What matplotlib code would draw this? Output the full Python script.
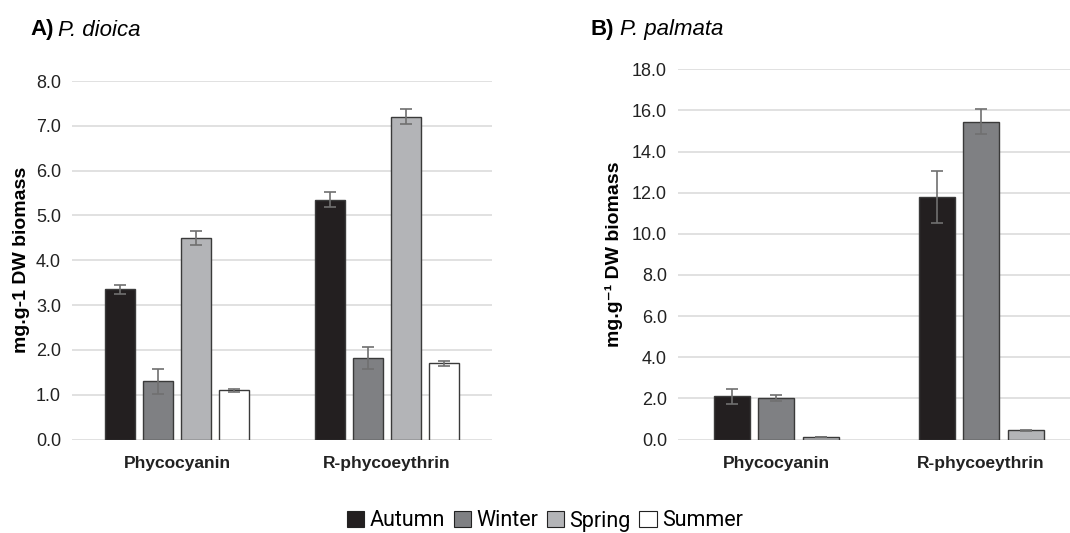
import matplotlib
matplotlib.use("Agg")
from matplotlib import pyplot as plt
from matplotlib.patches import Patch
import numpy as np

plt.rcParams['font.family'] = ['Liberation Sans', 'DejaVu Sans']

pigmentos = ["Phycocyanin", "R-phycoeythrin"]
estaciones = ["Autumn", "Winter", "Spring", "Summer"]
colores = ["#231f20", "#7f8083", "#b3b4b7", "#ffffff"]

# P. dioica (A)
dioica = [[3.35, 5.35], [1.30, 1.82], [4.50, 7.20], [1.10, 1.70]]
dioica_err = [[0.10, 0.17], [0.28, 0.25], [0.15, 0.17], [0.03, 0.05]]

# P. palmata (B) - no summer
palmata = [[2.10, 11.80], [2.00, 15.45], [0.12, 0.45]]
palmata_err = [[0.35, 1.25], [0.15, 0.60], [0.01, 0.03]]

W, H = 1070, 533
fig = plt.figure(figsize=(W / 100, H / 100), dpi=100)


def ejes(x0, x1, y0, y1):
    return fig.add_axes([x0 / W, 1 - y1 / H, (x1 - x0) / W, (y1 - y0) / H])


def panel(ax, datos, errores, ancho, paso, ymax, ystep, ylabel, lpad):
    indice = np.arange(len(pigmentos))
    n = len(datos)
    for i in range(n):
        pos = indice + (i - (n - 1) / 2) * paso
        ax.bar(pos, datos[i], ancho, color=colores[i], edgecolor="#3a3a3a",
               linewidth=1.0, zorder=3)
        ax.errorbar(pos, datos[i], yerr=errores[i], fmt="none", ecolor="#707070",
                    elinewidth=1.2, capsize=4, capthick=1.2, zorder=4)
    ax.set_ylim(0, ymax)
    ax.set_yticks(np.arange(0, ymax + 0.01, ystep))
    ax.set_yticklabels([f"{v:.1f}" for v in np.arange(0, ymax + 0.01, ystep)],
                       fontsize=13, color="#222222")
    ax.set_xticks(indice)
    ax.set_xticklabels(pigmentos, fontsize=12.5, fontweight="bold", color="#222222")
    ax.tick_params(length=0, pad=8)
    ax.tick_params(axis="x", pad=12)
    ax.grid(axis="y", color="#dcdcdc", linewidth=1.2, zorder=0)
    for s in ax.spines.values():
        s.set_visible(False)
    ax.set_ylabel(ylabel, fontsize=14, fontweight="bold", labelpad=lpad)


# panel A
axA = ejes(72, 492, 81, 439.5)
panel(axA, dioica, dioica_err, 30 / 210, 38 / 210, 8.0, 1.0, "mg.g-1 DW biomass", 4)
axA.set_xlim(-0.5, 1.5)

# panel B
axB = ejes(678, 1070, 69.3, 439.5)
panel(axB, palmata, palmata_err, 36 / 205, 44.5 / 205, 18.0, 2.0,
      "mg.g\u207b\u00b9 DW biomass", 6)
axB.set_xlim((678 - 776) / 205, (1070 - 776) / 205)

fig.text(30 / W, 1 - 30 / H, "A)", fontsize=16, fontweight="bold", va="center")
fig.text(58 / W, 1 - 30 / H, "P. dioica", fontsize=16, style="italic", va="center")
fig.text(591 / W, 1 - 30 / H, "B)", fontsize=16, fontweight="bold", va="center")
fig.text(620 / W, 1 - 30 / H, "P. palmata", fontsize=16, style="italic", va="center")

handles = [Patch(facecolor=c, edgecolor="#222222", linewidth=0.8) for c in colores]
fig.legend(handles, estaciones, loc="center", bbox_to_anchor=(545 / W, 1 - 521 / H),
           ncol=4, frameon=False, handlelength=0.8, handleheight=0.8,
           handletextpad=0.25, columnspacing=0.4,
           prop={"family": "Roboto", "size": 15.5})

fig.savefig("out.png", dpi=100)
